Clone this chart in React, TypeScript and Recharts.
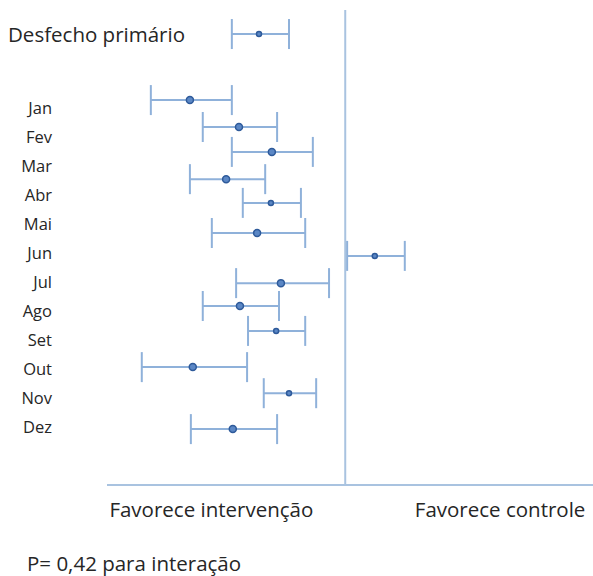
import { ScatterChart, Scatter, XAxis, YAxis, ErrorBar, ReferenceLine } from 'recharts';

// row positions (in row units, 1 = Jan label ... 12 = Dez label)
const rowPos = [-1.57, 0.71, 1.64, 2.5, 3.44, 4.26, 5.3, 6.09, 7.03, 7.82, 8.68, 9.93, 10.83, 12.07];
const estimate = [0.819, 0.674, 0.777, 0.846, 0.75, 0.844, 0.815, 1.062, 0.865, 0.779, 0.855, 0.68, 0.882, 0.764];
const lower = [0.762, 0.592, 0.701, 0.762, 0.674, 0.785, 0.72, 1.004, 0.771, 0.701, 0.796, 0.573, 0.829, 0.676];
const upper = [0.882, 0.762, 0.857, 0.932, 0.832, 0.907, 0.916, 1.125, 0.966, 0.861, 0.916, 0.794, 0.939, 0.857];
const pointSize = [2.5, 3.5, 3.5, 3.5, 3.5, 2.5, 3.5, 2.5, 3.5, 3.5, 2.5, 3.5, 2.5, 3.5];

const rowLabels = ['Desfecho primário', 'Jan', 'Fev', 'Mar', 'Abr', 'Mai', 'Jun', 'Jul', 'Ago', 'Set', 'Out', 'Nov', 'Dez'];
const labelPos = [-1.55, 1, 2, 3, 4, 5, 6, 7, 8, 9, 10, 11, 12];

const sideLabels = ['Favorece intervenção', 'Favorece controle'];
const sidePos = [0.719, 1.325];

const FONT = '"Open Sans", sans-serif';
const TEXT = '#262626';
const LINE = '#a9c3e0';

const data = rowPos.map((y, i) => ({
  x: estimate[i],
  y,
  err: [estimate[i] - lower[i], upper[i] - estimate[i]],
  r: pointSize[i],
}));

const YTick = (props: any) => {
  const { x, y, payload } = props;
  const i = labelPos.indexOf(payload.value);
  if (i < 0) return null;
  const primary = i === 0;
  return (
    <text
      x={primary ? x - 44 : x}
      y={y}
      dy="0.36em"
      textAnchor={primary ? 'start' : 'end'}
      fontSize={primary ? 20.5 : 16.5}
      fontFamily={FONT}
      fill={TEXT}
    >
      {rowLabels[i]}
    </text>
  );
};

const XTick = (props: any) => {
  const { x, y, payload } = props;
  const i = sidePos.indexOf(payload.value);
  if (i < 0) return null;
  return (
    <text x={x} y={y + 24} textAnchor="middle" fontSize={20.5} fontFamily={FONT} fill={TEXT}>
      {sideLabels[i]}
    </text>
  );
};

const Dot = (props: any) => {
  const { cx, cy, payload } = props;
  return <circle cx={cx} cy={cy} r={payload.r} fill="#5b87c5" stroke="#2e5a9a" strokeWidth={1.5} />;
};

export default function App() {
  return (
    <div style={{ position: 'absolute', left: 0, top: 0, width: 593, height: 576, background: '#fff' }}>
      <ScatterChart width={593} height={576} margin={{ top: 10, right: 0, left: 0, bottom: 61 }}>
        <XAxis
          dataKey="x"
          type="number"
          domain={[0.5, 1.52]}
          ticks={sidePos}
          tick={<XTick />}
          tickLine={false}
          axisLine={{ stroke: LINE, strokeWidth: 2 }}
          height={30}
          interval={0}
        />
        <YAxis
          dataKey="y"
          type="number"
          domain={[-2.4, 14]}
          reversed
          ticks={labelPos}
          tick={<YTick />}
          tickLine={false}
          axisLine={false}
          tickMargin={49}
          width={107}
          interval={0}
        />
        <ReferenceLine x={1} stroke={LINE} strokeWidth={2} />
        <Scatter data={data} shape={<Dot />} isAnimationActive={false}>
          <ErrorBar dataKey="err" direction="x" width={15} stroke="#8fb1da" strokeWidth={2} />
        </Scatter>
      </ScatterChart>
      <div
        style={{
          position: 'absolute',
          left: 27,
          top: 549,
          fontFamily: FONT,
          fontSize: 20.5,
          color: TEXT,
          whiteSpace: 'nowrap',
        }}
      >
        P= 0,42 para interação
      </div>
    </div>
  );
}
